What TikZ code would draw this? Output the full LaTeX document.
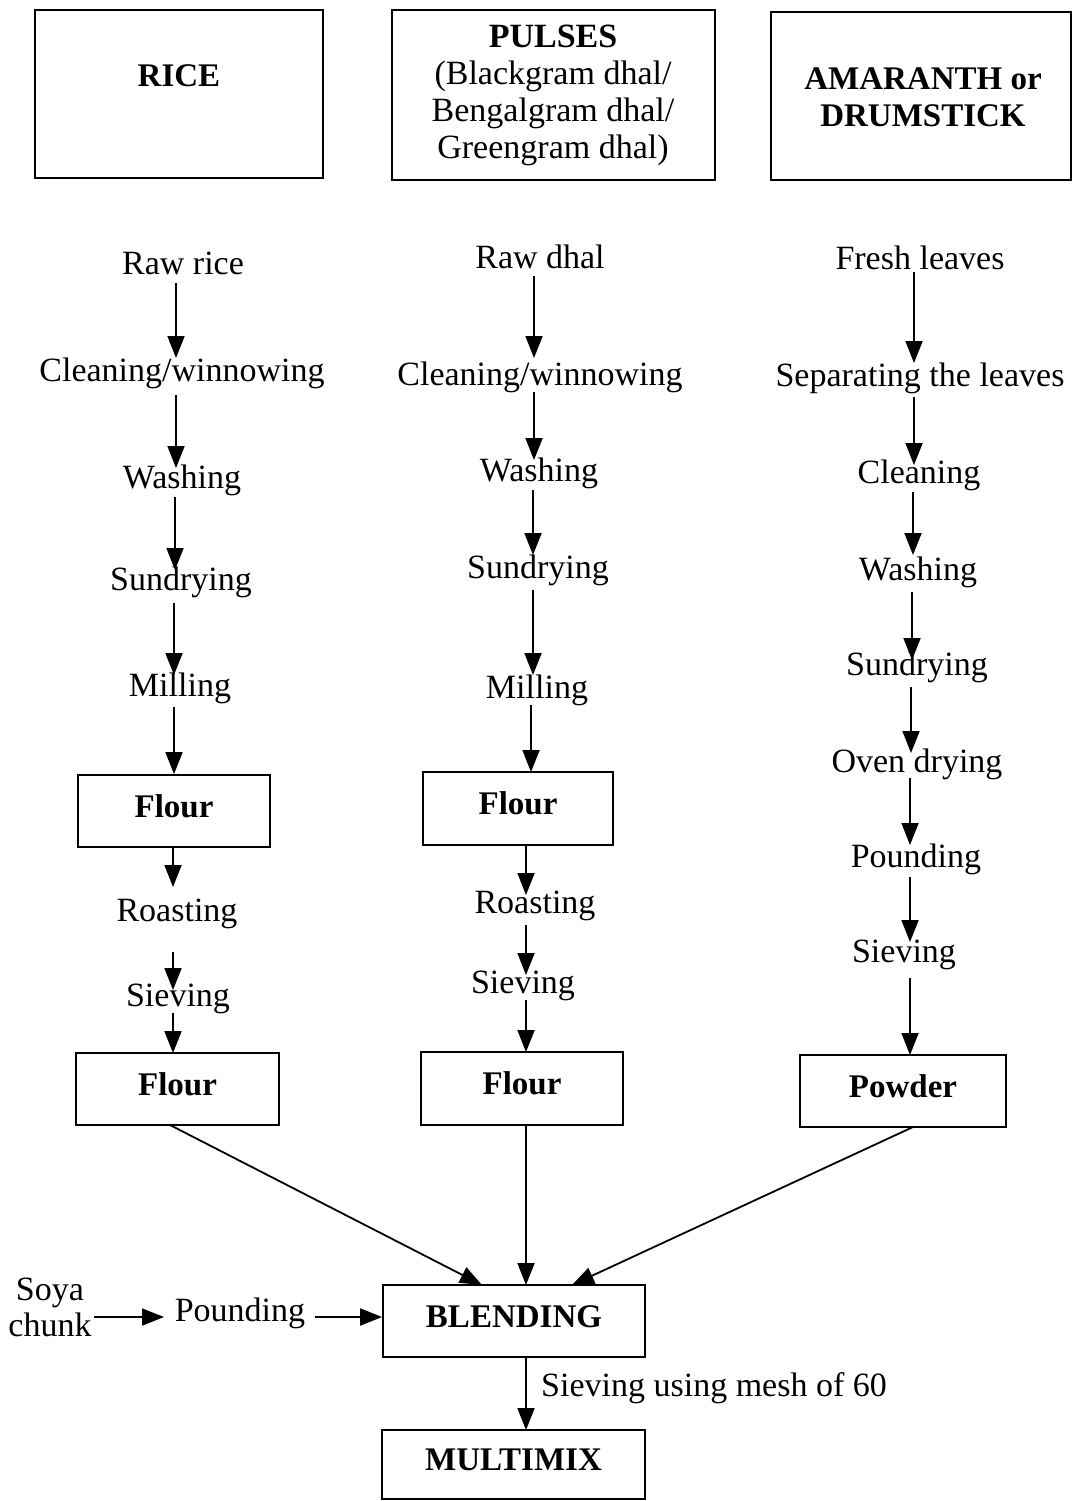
\documentclass[tikz,border=0pt]{standalone}
\usepackage{fontspec}
\setmainfont{Liberation Serif}
\usetikzlibrary{arrows.meta,calc}
\begin{document}
\begin{tikzpicture}[x=1pt,y=-1pt,
  every node/.style={font=\fontsize{34}{37}\selectfont},
  txt/.style={inner sep=0pt},
  hbox/.style={draw,line width=1.8pt,inner sep=0pt},
  fbox/.style={draw,line width=1.8pt,inner sep=0pt,text height=24pt,text depth=12pt,font=\fontsize{33}{36}\selectfont\bfseries},
  arr/.style={line width=1.8pt,-{Triangle[length=22pt,width=17pt]}},
  ln/.style={line width=1.5pt}]
\useasboundingbox (0,0) rectangle (1073,1501);
% header boxes
\node[hbox,minimum width=288pt,minimum height=168pt] (hrice) at (179,94) {};
\node[txt,font=\fontsize{33}{36}\selectfont\bfseries] (hricet) at (179,76) {RICE};
\node[hbox,minimum width=323pt,minimum height=170pt,align=center] (hpulse) at (553.5,95) {};
\node[txt,align=center] (hpulset) at (553,95.5) {\textbf{PULSES}\\(Blackgram dhal/\\Bengalgram dhal/\\Greengram dhal)};
\node[hbox,minimum width=300pt,minimum height=168pt] (hamar) at (921,96) {};
\node[txt,align=center,font=\fontsize{33}{37}\selectfont\bfseries] (hamart) at (923,97.5) {AMARANTH or\\DRUMSTICK};
% column 1
\node[txt] (r1) at (183,263) {Raw rice};
\node[txt] (r2) at (182,373) {Cleaning/winnowing};
\node[txt] (r3) at (182,480) {Washing};
\node[txt] (r4) at (181,582) {Sundrying};
\node[txt] (r5) at (180,688) {Milling};
\node[fbox,minimum width=192pt,minimum height=72pt] (r6) at (174,811) {Flour};
\node[txt] (r7) at (177,914) {Roasting};
\node[txt] (r8) at (178,999) {Sieving};
\node[fbox,minimum width=203pt,minimum height=72pt] (r9) at (177.5,1089) {Flour};
\draw[arr] ($(r1)+(-7,20)$) -- ($(r2)+(-6,-15)$);
\draw[arr] ($(r2)+(-6,22)$) -- ($(r3)+(-6,-12)$);
\draw[arr] ($(r3)+(-7,17)$) -- ($(r4)+(-6,-12)$);
\draw[arr] ($(r4)+(-7,21)$) -- ($(r5)+(-6,-13)$);
\draw[arr] ($(r5)+(-6,19)$) -- (r6.north);
\draw[arr] ($(r6)+(-1,36)$) -- ($(r7)+(-4,-27)$);
\draw[arr] ($(r7)+(-4,38)$) -- ($(r8)+(-5,-9)$);
\draw[arr] ($(r8)+(-5,14)$) -- ($(r9)+(-4.5,-36)$);
% column 2
\node[txt] (p1) at (540,257) {Raw dhal};
\node[txt] (p2) at (540,377) {Cleaning/winnowing};
\node[txt] (p3) at (539,473) {Washing};
\node[txt] (p4) at (538,570) {Sundrying};
\node[txt] (p5) at (537,690) {Milling};
\node[fbox,minimum width=190pt,minimum height=73pt] (p6) at (518,808.5) {Flour};
\node[txt] (p7) at (535,906) {Roasting};
\node[txt] (p8) at (523,986) {Sieving};
\node[fbox,minimum width=202pt,minimum height=73pt] (p9) at (522,1088.5) {Flour};
\draw[arr] ($(p1)+(-6,19)$) -- ($(p2)+(-6,-19)$);
\draw[arr] ($(p2)+(-6,15)$) -- ($(p3)+(-5,-13)$);
\draw[arr] ($(p3)+(-6,17)$) -- ($(p4)+(-5,-15)$);
\draw[arr] ($(p4)+(-5,20)$) -- ($(p5)+(-4,-15)$);
\draw[arr] ($(p5)+(-6,15)$) -- ($(p6)+(13,-36.5)$);
\draw[arr] ($(p6)+(8,36.5)$) -- ($(p7)+(-9,-11)$);
\draw[arr] ($(p7)+(-9,19)$) -- ($(p8)+(3,-11)$);
\draw[arr] ($(p8)+(3,14)$) -- ($(p9)+(4,-36.5)$);
% column 3
\node[txt] (a1) at (920,258) {Fresh leaves};
\node[txt] (a2) at (920,378) {Separating the leaves};
\node[txt] (a3) at (919,475) {Cleaning};
\node[txt] (a4) at (918,572) {Washing};
\node[txt] (a5) at (917,667) {Sundrying};
\node[txt] (a6) at (917,764) {Oven drying};
\node[txt] (a7) at (916,859) {Pounding};
\node[txt] (a8) at (904,955) {Sieving};
\node[fbox,minimum width=206pt,minimum height=72pt] (a9) at (903,1091) {Powder};
\draw[arr] ($(a1)+(-6,14)$) -- ($(a2)+(-6,-15)$);
\draw[arr] ($(a2)+(-6,19)$) -- ($(a3)+(-5,-10)$);
\draw[arr] ($(a3)+(-6,17)$) -- ($(a4)+(-5,-17)$);
\draw[arr] ($(a4)+(-6,20)$) -- ($(a5)+(-5,-7)$);
\draw[arr] ($(a5)+(-6,20)$) -- ($(a6)+(-6,-11)$);
\draw[arr] ($(a6)+(-7,14)$) -- ($(a7)+(-6,-14)$);
\draw[arr] ($(a7)+(-6,18)$) -- ($(a8)+(6,-13)$);
\draw[arr] ($(a8)+(6,23)$) -- ($(a9)+(7,-36)$);
% bottom
\node[fbox,minimum width=262pt,minimum height=72pt] (bl) at (514,1321) {BLENDING};
\node[fbox,minimum width=263pt,minimum height=69pt] (mm) at (513.5,1464.5) {MULTIMIX};
\node[txt,align=center,font=\fontsize{34}{36}\selectfont] (soya) at (50,1307) {Soya\\chunk};
\node[txt] (pound) at (240,1313) {Pounding};
\node[txt,anchor=west] (siv) at (541,1388) {Sieving using mesh of 60};
\draw[arr] ($(r9)+(-7.5,36)$) -- ($(bl)+(-32,-36)$);
\draw[arr] ($(p9)+(4,36.5)$) -- ($(bl)+(12,-36)$);
\draw[arr] ($(a9)+(10,36)$) -- ($(bl)+(58,-36)$);
\draw[arr] ($(soya)+(44,10)$) -- ($(pound)+(-76,4)$);
\draw[arr] ($(pound)+(75,4)$) -- ($(bl.west)+(0,-4)$);
\draw[arr] ($(bl)+(12,36)$) -- ($(mm)+(12.5,-34.5)$);
\end{tikzpicture}
\end{document}
